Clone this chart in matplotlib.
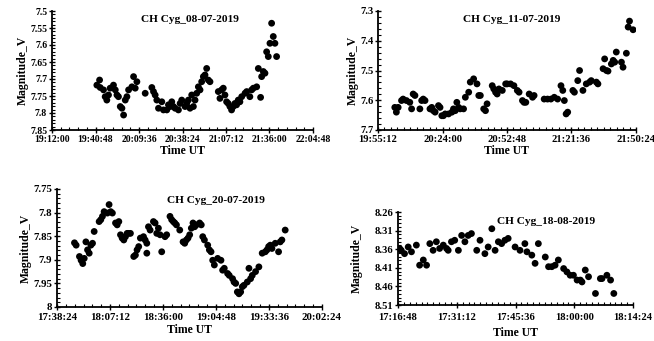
import numpy as np
import matplotlib
matplotlib.use("Agg")
import matplotlib.pyplot as plt
from matplotlib.ticker import FuncFormatter, FixedLocator, AutoMinorLocator

plt.rcParams['font.family'] = ['Liberation Serif', 'DejaVu Serif']
plt.rcParams['font.weight'] = 'bold'

# ---- data: UT in minutes after 00:00 UT, V magnitude ----
t_0807 = [1181.7, 1183.5, 1183.9, 1186.1, 1187.2, 1188.3, 1189.4, 1190.5, 1192.7, 1193.9,
          1195.0, 1196.0, 1197.2, 1198.3, 1199.4, 1200.5, 1201.6, 1202.7, 1204.9, 1206.0,
          1207.1, 1208.2, 1213.7, 1218.1, 1219.2, 1220.3, 1221.4, 1222.5, 1224.7, 1225.8,
          1228.0, 1229.1, 1230.2, 1231.3, 1232.4, 1233.5, 1235.7, 1236.8, 1237.9, 1240.1,
          1241.2, 1242.3, 1243.4, 1244.5, 1245.6, 1246.7, 1247.8, 1248.9, 1250.0, 1251.1,
          1252.2, 1253.3, 1254.4, 1255.5, 1256.6, 1262.1, 1263.2, 1264.3, 1265.4, 1266.5,
          1267.6, 1268.7, 1269.8, 1270.9, 1272.0, 1273.1, 1274.2, 1275.3, 1276.4, 1277.6,
          1279.8, 1280.9, 1283.0, 1284.2, 1285.3, 1287.5, 1288.6, 1290.1, 1290.8, 1291.9,
          1293.0, 1294.1, 1295.2, 1296.3, 1297.4, 1298.5, 1299.6, 1300.7]
v_0807 = [7.718, 7.703, 7.725, 7.732, 7.752, 7.762, 7.747, 7.727, 7.718, 7.732,
          7.747, 7.752, 7.781, 7.786, 7.806, 7.762, 7.752, 7.732, 7.723, 7.693,
          7.727, 7.708, 7.742, 7.725, 7.737, 7.747, 7.762, 7.786, 7.767, 7.791,
          7.791, 7.776, 7.781, 7.767, 7.781, 7.786, 7.791, 7.772, 7.762, 7.781,
          7.772, 7.762, 7.786, 7.747, 7.781, 7.762, 7.742, 7.723, 7.732, 7.708,
          7.693, 7.688, 7.669, 7.703, 7.708, 7.737, 7.757, 7.732, 7.727, 7.747,
          7.767, 7.772, 7.781, 7.791, 7.781, 7.772, 7.776, 7.762, 7.767, 7.752,
          7.742, 7.737, 7.752, 7.732, 7.727, 7.723, 7.669, 7.754, 7.693, 7.678,
          7.683, 7.620, 7.634, 7.595, 7.536, 7.575, 7.595, 7.634]

t_1107 = [1202.7, 1203.4, 1204.2, 1205.7, 1206.4, 1207.9, 1209.4, 1210.2, 1210.9, 1211.7,
          1213.9, 1214.7, 1215.4, 1216.2, 1218.4, 1219.2, 1219.9, 1220.7, 1222.2, 1222.9,
          1223.7, 1224.4, 1225.2, 1226.7, 1228.2, 1228.9, 1229.7, 1230.4, 1231.2, 1231.9,
          1233.4, 1234.2, 1235.7, 1236.4, 1237.9, 1239.4, 1240.2, 1240.9, 1242.4, 1243.2,
          1243.9, 1246.2, 1246.9, 1247.7, 1248.4, 1249.2, 1250.7, 1252.2, 1252.9, 1254.4,
          1255.9, 1257.4, 1258.2, 1259.7, 1260.4, 1261.2, 1262.7, 1264.2, 1264.9, 1269.4,
          1270.9, 1272.4, 1273.9, 1275.4, 1276.9, 1277.7, 1278.4, 1279.2, 1279.9, 1282.2,
          1282.9, 1284.4, 1285.2, 1286.7, 1288.2, 1289.7, 1290.4, 1292.7, 1293.4, 1295.7,
          1296.4, 1297.2, 1297.9, 1299.4, 1300.2, 1300.9, 1301.6, 1303.9, 1304.6, 1306.1,
          1307.5, 1306.9, 1309.1]
v_1107 = [7.624, 7.640, 7.624, 7.601, 7.596, 7.601, 7.607, 7.629, 7.579, 7.584,
          7.629, 7.601, 7.596, 7.601, 7.629, 7.624, 7.635, 7.640, 7.618, 7.624,
          7.652, 7.652, 7.646, 7.646, 7.640, 7.629, 7.635, 7.607, 7.624, 7.629,
          7.629, 7.590, 7.573, 7.539, 7.528, 7.545, 7.584, 7.584, 7.629, 7.635,
          7.612, 7.551, 7.562, 7.573, 7.579, 7.562, 7.567, 7.545, 7.545, 7.545,
          7.551, 7.567, 7.573, 7.601, 7.607, 7.607, 7.579, 7.590, 7.584, 7.596,
          7.596, 7.596, 7.590, 7.596, 7.551, 7.567, 7.601, 7.646, 7.640, 7.567,
          7.573, 7.534, 7.500, 7.567, 7.545, 7.539, 7.534, 7.539, 7.545, 7.494,
          7.461, 7.500, 7.502, 7.478, 7.466, 7.472, 7.438, 7.472, 7.489, 7.442,
          7.334, 7.354, 7.363]

t_2007 = [1067.9, 1068.8, 1070.6, 1071.5, 1072.4, 1073.2, 1074.1, 1075.0, 1075.9, 1076.8,
          1077.7, 1078.6, 1081.3, 1082.2, 1083.1, 1084.0, 1085.8, 1086.7, 1087.6, 1088.5,
          1090.2, 1091.1, 1092.0, 1092.9, 1093.8, 1094.7, 1095.6, 1096.5, 1097.4, 1098.3,
          1100.1, 1101.0, 1101.9, 1102.8, 1103.7, 1105.4, 1106.3, 1107.2, 1107.2, 1108.1,
          1109.0, 1110.8, 1111.7, 1112.6, 1113.5, 1114.4, 1115.3, 1117.1, 1118.0, 1119.8,
          1120.7, 1121.6, 1122.4, 1123.3, 1125.1, 1126.9, 1127.8, 1128.7, 1129.6, 1130.5,
          1131.4, 1132.3, 1133.2, 1134.1, 1135.9, 1136.8, 1137.6, 1138.5, 1140.3, 1141.2,
          1142.1, 1143.0, 1143.9, 1145.7, 1147.5, 1148.4, 1149.3, 1151.1, 1152.0, 1153.8,
          1154.6, 1155.5, 1156.4, 1157.3, 1158.2, 1159.1, 1160.0, 1161.8, 1162.7, 1163.6,
          1164.5, 1166.3, 1168.1, 1169.9, 1171.6, 1172.5, 1173.4, 1174.3, 1175.2, 1177.0,
          1178.8, 1179.7, 1180.6, 1182.4]
v_2007 = [7.864, 7.869, 7.893, 7.901, 7.908, 7.897, 7.862, 7.879, 7.886, 7.869,
          7.865, 7.840, 7.819, 7.815, 7.808, 7.798, 7.801, 7.783, 7.798, 7.801,
          7.822, 7.826, 7.819, 7.847, 7.854, 7.858, 7.851, 7.844, 7.844, 7.844,
          7.893, 7.890, 7.879, 7.872, 7.854, 7.851, 7.858, 7.865, 7.886, 7.830,
          7.837, 7.819, 7.822, 7.844, 7.833, 7.847, 7.883, 7.851, 7.847, 7.808,
          7.815, 7.819, 7.822, 7.826, 7.837, 7.862, 7.865, 7.858, 7.854, 7.847,
          7.833, 7.822, 7.830, 7.826, 7.822, 7.826, 7.851, 7.858, 7.869, 7.879,
          7.883, 7.901, 7.911, 7.897, 7.901, 7.922, 7.918, 7.929, 7.933, 7.940,
          7.947, 7.950, 7.968, 7.972, 7.968, 7.957, 7.954, 7.947, 7.918, 7.940,
          7.933, 7.925, 7.915, 7.886, 7.883, 7.879, 7.872, 7.869, 7.876, 7.865,
          7.883, 7.862, 7.858, 7.837]

t_1808 = [1037.2, 1037.6, 1038.4, 1039.3, 1040.1, 1041.3, 1042.1, 1043.0, 1043.8, 1044.6,
          1045.4, 1046.2, 1047.0, 1047.9, 1048.7, 1049.1, 1049.9, 1050.7, 1051.6, 1052.4,
          1053.2, 1054.0, 1054.8, 1056.1, 1056.9, 1058.1, 1058.9, 1059.8, 1060.6, 1061.4,
          1062.2, 1063.0, 1063.8, 1065.5, 1066.7, 1067.9, 1068.4, 1069.6, 1070.4, 1071.2,
          1072.9, 1073.7, 1074.5, 1075.3, 1076.1, 1077.4, 1078.2, 1079.0, 1079.8, 1080.7,
          1081.5, 1081.9, 1082.7, 1083.5, 1085.2, 1086.4, 1086.8, 1088.0, 1088.9, 1089.7]
v_1808 = [8.358, 8.363, 8.372, 8.354, 8.367, 8.349, 8.403, 8.389, 8.403, 8.345,
          8.363, 8.340, 8.358, 8.349, 8.358, 8.363, 8.340, 8.336, 8.363, 8.323,
          8.340, 8.323, 8.318, 8.363, 8.336, 8.372, 8.354, 8.305, 8.363, 8.340,
          8.345, 8.336, 8.331, 8.354, 8.363, 8.345, 8.367, 8.376, 8.398, 8.345,
          8.381, 8.407, 8.407, 8.403, 8.389, 8.412, 8.421, 8.430, 8.430, 8.443,
          8.443, 8.448, 8.416, 8.434, 8.479, 8.439, 8.439, 8.430, 8.443, 8.479]

titles = ["CH Cyg_08-07-2019", "CH Cyg_11-07-2019", "CH Cyg_20-07-2019", "CH Cyg_18-08-2019"]

# axis limits (minutes) and magnitude ranges
x_ranges = [(1152.0, 1324.8), (1195.2, 1310.4), (1058.4, 1202.4), (1036.8, 1094.4)]
x_steps = [28.8, 28.8, 28.8, 14.4]
y_ranges = [(7.5, 7.85), (7.3, 7.7), (7.75, 8.0), (8.26, 8.51)]
y_steps = [0.05, 0.1, 0.05, 0.05]

series = [(t_0807, v_0807), (t_1107, v_1107), (t_2007, v_2007), (t_1808, v_1808)]

W, H = 654, 341
fig = plt.figure(figsize=(W / 100, H / 100), dpi=100)

# axes boxes in pixels: left, top, right, bottom
boxes = [(52, 11, 313, 130), (378, 11, 636, 130), (57, 189, 322, 307), (398, 212, 633, 305)]
title_pos = [(0.53, 0.93), (0.52, 0.93), (0.6, 0.9), (0.63, 0.9)]
tick_fs = [7.0, 7.6, 7.8, 7.6]
x_pad = [1.5, 1.5, 2.5, 4.0]
x_lpad = [1, 1, 1, 3]
y_lpad = [1, 1, 1, 8]
x_minor = [5, 10, 6, 10]
y_minor = [5, 5, 5, 5]


def time_fmt(x, pos):
    s = int(round(x * 60))
    h = s // 3600
    m = (s % 3600) // 60
    sec = s % 60
    return f"{h}:{m:02d}:{sec:02d}"


def mag_fmt(y, pos):
    return f"{round(y, 3):g}"


for i, (t, v) in enumerate(series):
    l, tp, r, b = boxes[i]
    ax = fig.add_axes([l / W, 1 - b / H, (r - l) / W, (b - tp) / H])
    ax.scatter(t, v, s=24, color='black', edgecolors='none', zorder=3)
    x0, x1 = x_ranges[i]
    y0, y1 = y_ranges[i]
    ax.set_xlim(x0, x1)
    ax.set_ylim(y1, y0)
    ax.xaxis.set_major_locator(FixedLocator(np.arange(x0, x1 + 0.01, x_steps[i])))
    ax.xaxis.set_major_formatter(FuncFormatter(time_fmt))
    ax.yaxis.set_major_locator(FixedLocator(np.arange(y0, y1 + 1e-6, y_steps[i])))
    ax.yaxis.set_major_formatter(FuncFormatter(mag_fmt))
    ax.xaxis.set_minor_locator(AutoMinorLocator(x_minor[i]))
    ax.yaxis.set_minor_locator(AutoMinorLocator(y_minor[i]))
    for s in ['top', 'right']:
        ax.spines[s].set_visible(False)
    for s in ['left', 'bottom']:
        ax.spines[s].set_linewidth(1.3)
    ax.tick_params(which='major', direction='inout', length=4, width=1.0,
                   labelsize=tick_fs[i], pad=1.5)
    ax.tick_params(axis='x', which='major', pad=x_pad[i])
    ax.tick_params(which='minor', direction='in', length=2, width=0.8)
    for lab in ax.get_xticklabels() + ax.get_yticklabels():
        lab.set_fontweight('bold')
    ax.set_xlabel("Time UT", fontsize=8.5, fontweight='bold', labelpad=x_lpad[i])
    ax.set_ylabel("Magnitude_V", fontsize=8.5, fontweight='bold', labelpad=y_lpad[i])
    ax.text(title_pos[i][0], title_pos[i][1], titles[i], transform=ax.transAxes,
            ha='center', va='center', fontsize=8.2, fontweight='bold')
    ax.patch.set_alpha(0)

fig.savefig("out.png", dpi=100)
